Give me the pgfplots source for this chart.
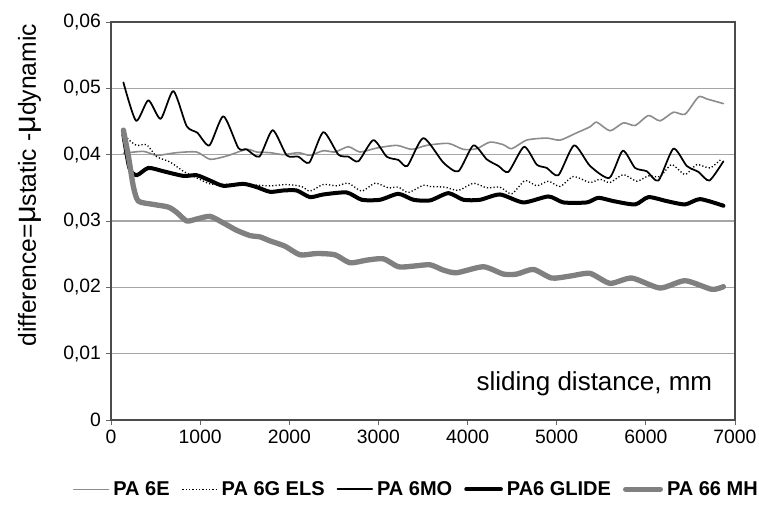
\documentclass[border=0pt]{standalone}
\usepackage{fontspec}
\setmainfont{Liberation Sans}
\usepackage{pgfplots}
\pgfplotsset{compat=1.18}
\begin{document}
\begin{tikzpicture}
\useasboundingbox (-83.25pt,-63pt) rectangle (486pt,315pt);
\begin{axis}[
  at={(0,0)}, anchor=south west,
  width=468pt, height=298.5pt, scale only axis,
  xmin=0, xmax=7000, ymin=0, ymax=0.06,
  xtick={0,1000,2000,3000,4000,5000,6000,7000},
  xticklabels={0,1000,2000,3000,4000,5000,6000,7000},
  ytick={0,0.01,0.02,0.03,0.04,0.05,0.06},
  yticklabels={0,{0,01},{0,02},{0,03},{0,04},{0,05},{0,06}},
  scaled ticks=false,
  tick pos=left, tick align=outside, major tick length=4pt,
  ymajorgrids, grid style={black!35, line width=0.9pt},
  axis line style={black!70, line width=0.8pt},
  tick style={black!60, line width=0.6pt},
  tick label style={font=\fontsize{14.5}{16}\selectfont},
  /pgf/number format/assume math mode=true,
  xlabel={sliding distance, mm},
  xlabel style={font=\fontsize{19.5}{21}\selectfont, at={(axis description cs:0.971,0.073)}, anchor=base east},
  ylabel={difference={\fontsize{23}{23}\selectfont μ}static -{\fontsize{23}{23}\selectfont μ}dynamic},
  ylabel style={font=\fontsize{18.5}{20}\selectfont, at={(axis description cs:-0.13,0.59)}, anchor=center},
  legend style={at={(axis description cs:0.49,-0.14)}, anchor=north, draw=none, fill=none,
    font=\bfseries\fontsize{15}{17}\selectfont, legend columns=5,
    /tikz/every even column/.append style={column sep=7pt},
    /tikz/every odd column/.append style={column sep=1pt}},
  legend image code/.code={\draw[#1] (0pt,0pt) -- (26pt,0pt);},
  every axis plot/.append style={smooth, tension=0.4, line join=round, line cap=round},
]
% PA 6E
\addplot[color=black!45, line width=1.2pt] coordinates {
(139,0.0402) (363,0.0405) (513,0.0399) (737,0.0403) (961,0.0404) (1111,0.0393)
(1298,0.0398) (1522,0.0408) (1635,0.0404) (1784,0.0403) (1934,0.0400) (2102,0.0403)
(2233,0.0399) (2382,0.0406) (2513,0.0404) (2663,0.0412) (2794,0.0404) (2981,0.0410)
(3205,0.0414) (3373,0.0408) (3542,0.0414) (3785,0.0417) (3953,0.0408) (4103,0.0409)
(4252,0.0419) (4402,0.0415) (4495,0.0409) (4664,0.0422) (4888,0.0425) (5038,0.0422)
(5225,0.0433) (5374,0.0442) (5449,0.0449) (5598,0.0436) (5748,0.0448) (5879,0.0444)
(6029,0.0459) (6159,0.0451) (6309,0.0464) (6440,0.0461) (6590,0.0487) (6683,0.0484)
(6870,0.0477)
};
\addlegendentry{PA 6E}
% PA 6G ELS
\addplot[color=black, line width=1pt, dash pattern=on 0.9pt off 1.6pt, line cap=butt] coordinates {
(139,0.0433) (195,0.0423) (288,0.0414) (400,0.0415) (513,0.0397) (662,0.0389)
(812,0.0375) (961,0.0365) (1111,0.0356) (1261,0.0355) (1410,0.0356) (1560,0.0355)
(1784,0.0353) (1971,0.0355) (2139,0.0352) (2233,0.0345) (2382,0.0355) (2532,0.0353)
(2663,0.0357) (2813,0.0345) (2962,0.0357) (3112,0.0350) (3224,0.0351) (3336,0.0343)
(3504,0.0354) (3579,0.0352) (3747,0.0351) (3897,0.0346) (4065,0.0357) (4215,0.0350)
(4364,0.0351) (4495,0.0341) (4645,0.0361) (4776,0.0353) (4907,0.0360) (5038,0.0352)
(5187,0.0367) (5374,0.0358) (5486,0.0363) (5598,0.0358) (5748,0.0370) (5898,0.0360)
(6029,0.0368) (6159,0.0367) (6290,0.0385) (6440,0.0370) (6571,0.0385) (6720,0.0380)
(6851,0.0394)
};
\addlegendentry{PA 6G ELS}
% PA 6MO
\addplot[color=black, line width=1.3pt] coordinates {
(139,0.0509) (281,0.0451) (419,0.0482) (557,0.0454) (700,0.0496) (849,0.0443)
(969,0.0433) (1104,0.0414) (1261,0.0458) (1429,0.0410) (1522,0.0408) (1665,0.0397)
(1814,0.0437) (1971,0.0399) (2102,0.0397) (2225,0.0388) (2382,0.0434) (2551,0.0400)
(2663,0.0397) (2775,0.0390) (2943,0.0422) (3093,0.0397) (3224,0.0392) (3325,0.0383)
(3504,0.0425) (3729,0.0388) (3897,0.0375) (4065,0.0414) (4215,0.0393) (4346,0.0383)
(4458,0.0374) (4634,0.0412) (4776,0.0385) (4888,0.0380) (5019,0.0369) (5195,0.0414)
(5374,0.0383) (5591,0.0365) (5741,0.0406) (5879,0.0380) (6010,0.0375) (6141,0.0361)
(6309,0.0409) (6459,0.0383) (6590,0.0374) (6713,0.0361) (6870,0.0390)
};
\addlegendentry{PA 6MO}
% PA6 GLIDE
\addplot[color=black, line width=3pt] coordinates {
(139,0.0430) (206,0.0380) (288,0.0369) (419,0.0380) (587,0.0375) (812,0.0368)
(961,0.0369) (1111,0.0361) (1261,0.0353) (1485,0.0356) (1635,0.0351) (1784,0.0344)
(1934,0.0346) (2083,0.0346) (2233,0.0336) (2382,0.0340) (2644,0.0343) (2813,0.0332)
(3018,0.0332) (3224,0.0341) (3392,0.0332) (3579,0.0331) (3785,0.0342) (3953,0.0332)
(4140,0.0332) (4364,0.0340) (4626,0.0328) (4907,0.0337) (5075,0.0328) (5337,0.0328)
(5467,0.0335) (5636,0.0330) (5879,0.0325) (6029,0.0336) (6234,0.0330) (6440,0.0325)
(6608,0.0333) (6870,0.0323)
};
\addlegendentry{PA6 GLIDE}
% PA 66 MH
\addplot[color=black!50, line width=4pt] coordinates {
(139,0.0437) (195,0.0398) (251,0.0352) (307,0.0330) (475,0.0325) (643,0.0321)
(737,0.0313) (849,0.0300) (961,0.0303) (1111,0.0307) (1261,0.0297) (1410,0.0286)
(1560,0.0278) (1672,0.0276) (1784,0.0270) (1952,0.0262) (2121,0.0249) (2308,0.0251)
(2513,0.0249) (2681,0.0237) (2869,0.0241) (3056,0.0243) (3224,0.0231) (3392,0.0232)
(3579,0.0234) (3729,0.0226) (3878,0.0222) (4177,0.0231) (4402,0.0220) (4552,0.0220)
(4738,0.0227) (4944,0.0214) (5150,0.0217) (5374,0.0221) (5598,0.0206) (5842,0.0214)
(6159,0.0199) (6440,0.0210) (6739,0.0197) (6870,0.0201)
};
\addlegendentry{PA 66 MH}
\end{axis}
\end{tikzpicture}
\end{document}
